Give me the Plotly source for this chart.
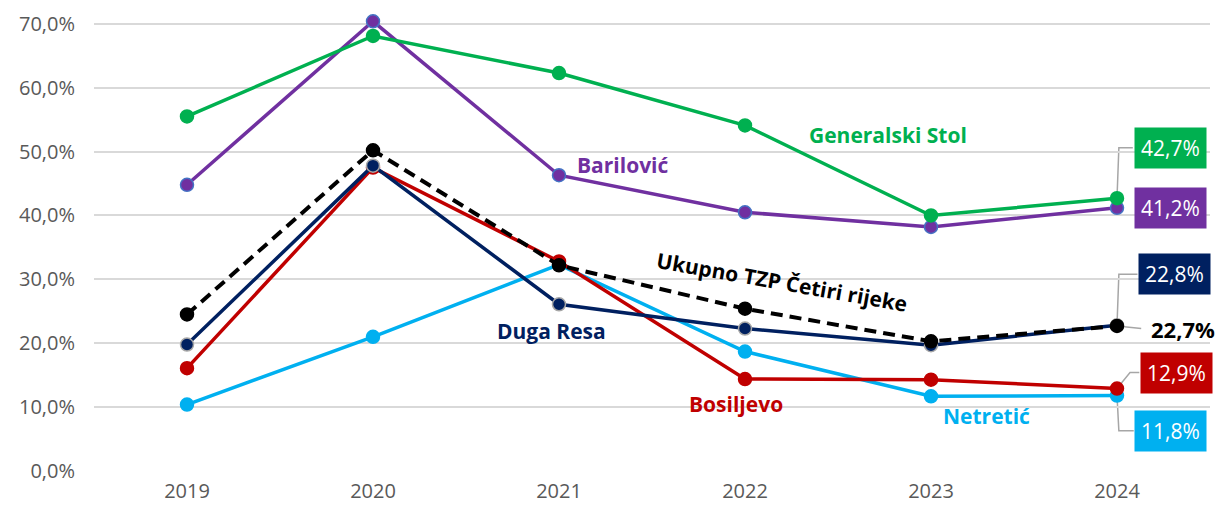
"""Line chart: share by destination, TZP Četiri rijeke, 2019-2024."""
import plotly.graph_objects as go

years = ["2019", "2020", "2021", "2022", "2023", "2024"]

generalski_stol = [55.5, 68.1, 62.3, 54.1, 40.0, 42.7]
barilovic = [44.8, 70.4, 46.3, 40.5, 38.2, 41.2]
ukupno = [24.5, 50.2, 32.2, 25.4, 20.3, 22.7]
duga_resa = [19.8, 47.8, 26.1, 22.3, 19.7, 22.8]
bosiljevo = [16.1, 47.5, 32.8, 14.4, 14.3, 12.9]
netretic = [10.4, 21.0, 32.3, 18.7, 11.7, 11.8]

y_ticks = [0, 10, 20, 30, 40, 50, 60, 70]
y_tick_text = ["0,0%", "10,0%", "20,0%", "30,0%", "40,0%", "50,0%", "60,0%", "70,0%"]

FONT = "Open Sans, Noto Sans, sans-serif"
GREY = "#A6A6A6"

# name, values, colour, marker outline, dash, name-label position, name-label angle
series = [
    ("Netretić", netretic, "#00B0F0", "#00B0F0", "solid", (4.30, 8.6), 0),
    ("Bosiljevo", bosiljevo, "#C00000", "#C00000", "solid", (2.95, 10.5), 0),
    ("Duga Resa", duga_resa, "#002060", "#A6A6A6", "solid", (1.96, 21.9), 0),
    ("Ukupno TZP Četiri rijeke", ukupno, "#000000", "#000000", "dash", (3.20, 29.6), 10),
    ("Barilović", barilovic, "#7030A0", "#4472C4", "solid", (2.345, 47.9), 0),
    ("Generalski Stol", generalski_stol, "#00B050", "#00B050", "solid", (3.77, 52.6), 0),
]

# end-value callouts: box centre (x index, y value) and elbow of the leader line
callouts = {
    "Generalski Stol": ((5.285, 50.6), (5.01, 50.6)),
    "Barilović": ((5.285, 41.2), None),
    "Duga Resa": ((5.31, 30.8), (5.01, 30.8)),
    "Ukupno TZP Četiri rijeke": ((5.355, 22.3), None),
    "Bosiljevo": ((5.32, 15.4), (5.07, 15.4)),
    "Netretić": ((5.29, 6.3), (5.01, 6.3)),
}

fig = go.Figure()

for name, vals, col, edge, dash, _, _ in series:
    fig.add_trace(go.Scatter(
        x=years, y=vals, mode="lines+markers", name=name,
        line=dict(color=col, width=4 if dash == "dash" else 3.5,
                  dash="12px,7px" if dash == "dash" else dash),
        marker=dict(size=13, color=col, line=dict(color=edge, width=1.5)),
        cliponaxis=False,
    ))

for name, vals, col, edge, dash, (lx, ly), ang in series:
    fig.add_annotation(x=lx, y=ly, xref="x", yref="y", text=f"<b>{name}</b>",
                       showarrow=False, textangle=ang,
                       font=dict(family=FONT, size=21, color=col))

    (bx, by), elbow = callouts[name]
    last = vals[-1]
    label = f"{last:.1f}%".replace(".", ",")
    # leader line from last point to the label
    box_left = bx - 0.2
    if elbow is not None:
        path = f"M 5,{last} L {elbow[0]},{elbow[1]} L {box_left},{by}"
        fig.add_shape(type="path", path=path, xref="x", yref="y",
                      line=dict(color=GREY, width=1.5), layer="below")
    elif name == "Ukupno TZP Četiri rijeke":
        fig.add_shape(type="line", x0=5, y0=last, x1=5.13, y1=by, xref="x", yref="y",
                      line=dict(color=GREY, width=1.5), layer="below")
    if name == "Ukupno TZP Četiri rijeke":
        fig.add_annotation(x=bx, y=by, xref="x", yref="y", text=f"<b>{label}</b>",
                           showarrow=False, font=dict(family=FONT, size=22, color="#000000"))
    else:
        fig.add_annotation(x=bx, y=by, xref="x", yref="y", text=label,
                           showarrow=False, bgcolor=col, borderpad=6,
                           font=dict(family=FONT, size=21, color="#FFFFFF"))

fig.update_layout(
    width=1221, height=512,
    paper_bgcolor="#FFFFFF", plot_bgcolor="#FFFFFF",
    showlegend=False,
    margin=dict(l=94, r=11, t=20, b=41, autoexpand=False),
    font=dict(family=FONT, size=20, color="#595959"),
)
fig.update_xaxes(type="category", range=[-0.5, 5.5], showgrid=False, zeroline=False,
                 showline=False, ticklabelstandoff=6, automargin=False,
                 tickfont=dict(family=FONT, size=20, color="#595959"))
# range a bit above 70 so the 2020 Barilović point is not dropped
fig.update_yaxes(range=[0, 70.6], tickvals=y_ticks, ticktext=y_tick_text,
                 gridcolor="#D9D9D9", gridwidth=1.5, zeroline=False, showline=False,
                 ticklabelstandoff=18, automargin=False,
                 tickfont=dict(family=FONT, size=20, color="#595959"))

fig.write_html("out.html", config={"displayModeBar": False},
               post_script="document.body.style.margin='0';")
